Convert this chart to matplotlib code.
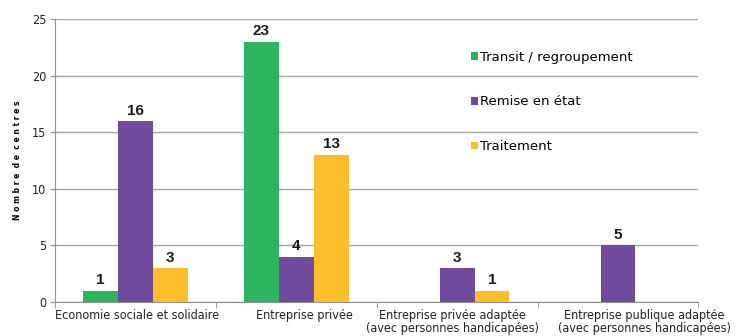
import numpy as np
import matplotlib.pyplot as plt
from matplotlib.transforms import ScaledTranslation

# Centres par type de structure et par activité
categories = ["Economie sociale et solidaire", "Entreprise privée",
              "Entreprise privée adaptée\n(avec personnes handicapées)",
              "Entreprise publique adaptée\n(avec personnes handicapées)"]
series = ["Transit / regroupement", "Remise en état", "Traitement"]
transit = [1, 23, 0, 0]
remise = [16, 4, 3, 5]
traitement = [3, 13, 1, 0]
colors = ["#2db45f", "#704a9c", "#fdbe2c"]

plt.rcParams['font.family'] = ['DejaVu Sans']
plt.rcParams['font.stretch'] = 'condensed'

fig = plt.figure(figsize=(7.55, 3.36), dpi=100)
ax = fig.add_axes([0.073, 0.101, 0.852, 0.842])

x = np.arange(len(categories))
w = 0.217
for i, (name, vals, c) in enumerate(zip(series, [transit, remise, traitement], colors)):
    xs = x + (i - 1) * w
    for xi, v in zip(xs, vals):
        if v == 0:
            continue
        ax.bar(xi, v, w, color=c, zorder=3)
        ax.annotate(str(v), (xi, v), xytext=(0, 2.5), textcoords='offset points',
                    ha='center', va='bottom', fontsize=11, fontweight='bold',
                    family='Liberation Sans', fontstretch='normal', color='#1a1a1a')
    ax.bar(0, 0, 0, color=c, label=name)

ax.set_xlim(-0.5, len(categories) - 0.5)
ax.set_ylim(0, 25)
ax.set_yticks(range(0, 26, 5))
ax.yaxis.grid(True, color='#a6a6a6', linewidth=1)
ax.set_axisbelow(True)

ax.set_xticks(x)
ax.set_xticklabels(categories, fontsize=9, color='#222222', linespacing=1.0)
ax.set_xticks(np.arange(len(categories) + 1) - 0.5, minor=True)
ax.tick_params(axis='x', which='major', length=0, pad=5)
ax.tick_params(axis='x', which='minor', length=4, color='#909090')
ax.tick_params(axis='y', length=3.5, pad=3, color='#909090', labelsize=9,
               labelcolor='#222222')

# les deux dernières étiquettes sont écartées l'une de l'autre
shifts = [2, 8, -5, 26]
for lbl, dx in zip(ax.get_xticklabels(), shifts):
    lbl.set_transform(lbl.get_transform() + ScaledTranslation(dx / 100, 0, fig.dpi_scale_trans))

for s in ['top', 'right']:
    ax.spines[s].set_visible(False)
for s in ['left', 'bottom']:
    ax.spines[s].set_color('#909090')

ax.set_ylabel("N o m b r e  d e  c e n t r e s", fontsize=5.5, fontweight='bold',
              fontstretch='normal', labelpad=7)

ax.legend(loc='upper left', bbox_to_anchor=(0.628, 0.93), frameon=False,
          prop={'family': 'DejaVu Sans', 'stretch': 'normal', 'size': 9.5},
          handlelength=0.5, handleheight=0.5, handletextpad=0.2,
          labelspacing=2.4)

fig.savefig("out.png", dpi=100)
